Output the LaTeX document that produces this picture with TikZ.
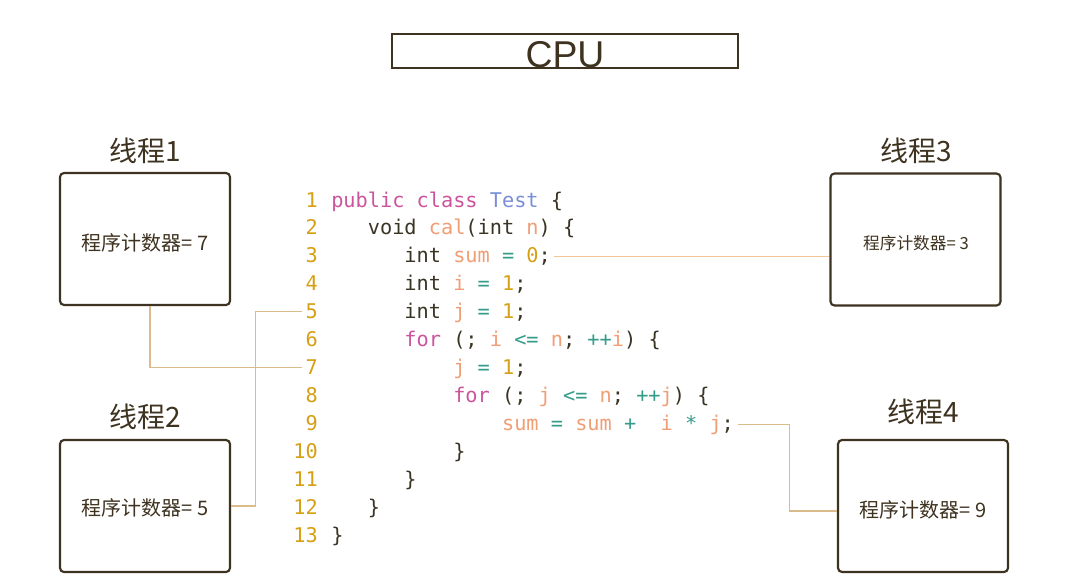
\documentclass[tikz,border=0pt]{standalone}
\usepackage{fontspec}
\setmainfont{Noto Sans CJK SC}
\newfontfamily\codefont{DejaVu Sans Mono}
\newfontfamily\cpufont{Liberation Sans}
\definecolor{dkbrown}{RGB}{62,50,32}
\definecolor{cdark}{RGB}{58,52,36}
\definecolor{cgold}{RGB}{214,160,20}
\definecolor{ckw}{RGB}{204,84,156}
\definecolor{ccls}{RGB}{122,142,216}
\definecolor{cvar}{RGB}{240,158,118}
\definecolor{cop}{RGB}{52,156,138}
\definecolor{ctan}{RGB}{218,188,140}
\definecolor{cpeach}{RGB}{242,196,154}
\newcommand\cdkw[1]{\textcolor{ckw}{#1}}
\newcommand\cdcl[1]{\textcolor{ccls}{#1}}
\newcommand\cdvr[1]{\textcolor{cvar}{#1}}
\newcommand\cdop[1]{\textcolor{cop}{#1}}
\newcommand\cdnm[1]{\textcolor{cgold}{#1}}
\begin{document}
\begin{tikzpicture}[x=0.75pt,y=-0.75pt,
  box/.style={draw=dkbrown, line width=1.6pt, rounded corners=3pt,
    minimum width=127.5pt, minimum height=99pt, inner sep=0pt},
  boxtxt/.style={text=dkbrown, inner sep=0pt, font=\fontsize{15}{18}\selectfont},
  lab/.style={text=dkbrown, inner sep=0pt, font=\fontsize{21}{25}\selectfont},
  code/.style={anchor=base west, inner sep=0pt, text=cdark, font=\codefont\fontsize{15.2}{18}\selectfont},
  lnum/.style={anchor=base east, inner sep=0pt, text=cgold, font=\codefont\fontsize{15.2}{18}\selectfont},
  conn/.style={draw=ctan, line width=0.8pt},
]
\useasboundingbox[fill=white] (0,0) rectangle (1080,582);

% CPU
\node[draw=dkbrown, line width=1.5pt, minimum width=259.5pt, minimum height=26pt, inner sep=0pt] (cpu) at (565,51) {};
\node[anchor=base, inner sep=0pt, text=dkbrown, font=\cpufont\fontsize{28}{30}\selectfont] (cputxt) at (565,67) {CPU};

% thread boxes
\node[box] (b1) at (145,239) {};
\node[box] (b2) at (145,506) {};
\node[box] (b3) at (915.5,239.5) {};
\node[box] (b4) at (923,506) {};
\node[boxtxt] (t1) at (145,243) {程序计数器= 7};
\node[boxtxt] (t2) at (145,508) {程序计数器= 5};
\node[boxtxt, font=\fontsize{12.5}{15}\selectfont] (t3) at (916,243) {程序计数器= 3};
\node[boxtxt] (t4) at (923,510) {程序计数器= 9};
\node[lab] (l1) at (145,151) {线程1};
\node[lab] (l2) at (145,417) {线程2};
\node[lab] (l3) at (916,151) {线程3};
\node[lab] (l4) at (923,412) {线程4};

% line numbers
\foreach \k in {1,...,13}{
  \node[lnum] (n\k) at (318,{200+(\k-1)*27.92+7}) {\k};
}
% code
\node[code] (c1) at (331,{200+0*27.92+7}) {\cdkw{public} \cdkw{class} \cdcl{Test} \{};
\node[code] (c2) at (367.6,{200+1*27.92+7}) {void \cdvr{cal}(int \cdvr{n}) \{};
\node[code] (c3) at (404.2,{200+2*27.92+7}) {int \cdvr{sum} \cdop{=} \cdnm{0};};
\node[code] (c4) at (404.2,{200+3*27.92+7}) {int \cdvr{i} \cdop{=} \cdnm{1};};
\node[code] (c5) at (404.2,{200+4*27.92+7}) {int \cdvr{j} \cdop{=} \cdnm{1};};
\node[code] (c6) at (404.2,{200+5*27.92+7}) {\cdkw{for} (; \cdvr{i} \cdop{<=} \cdvr{n}; \cdop{++}\cdvr{i}) \{};
\node[code] (c7) at (453,{200+6*27.92+7}) {\cdvr{j} \cdop{=} \cdnm{1};};
\node[code] (c8) at (453,{200+7*27.92+7}) {\cdkw{for} (; \cdvr{j} \cdop{<=} \cdvr{n}; \cdop{++}\cdvr{j}) \{};
\node[code] (c9) at (501.8,{200+8*27.92+7}) {\cdvr{sum} \cdop{=} \cdvr{sum} \cdop{+}\ \ \cdvr{i} \cdop{*} \cdvr{j};};
\node[code] (c10) at (453,{200+9*27.92+7}) {\}};
\node[code] (c11) at (404.2,{200+10*27.92+7}) {\}};
\node[code] (c12) at (367.6,{200+11*27.92+7}) {\}};
\node[code] (c13) at (331,{200+12*27.92+7}) {\}};

% connectors
\draw[conn, draw=cpeach] ([xshift=2.5pt]c3.east) -- (c3.east -| b3.west);
\draw[conn] ([xshift=-2.5pt]n5.west) -- ++(-46,0) |- (b2.east);
\draw[conn] ([xshift=3.75pt]b1.south) |- ([xshift=-2.5pt]n7.west);
\draw[conn] ([xshift=3pt]c9.east) -- ++(51,0) |- ([yshift=-3.75pt]b4.west);
\end{tikzpicture}
\end{document}
